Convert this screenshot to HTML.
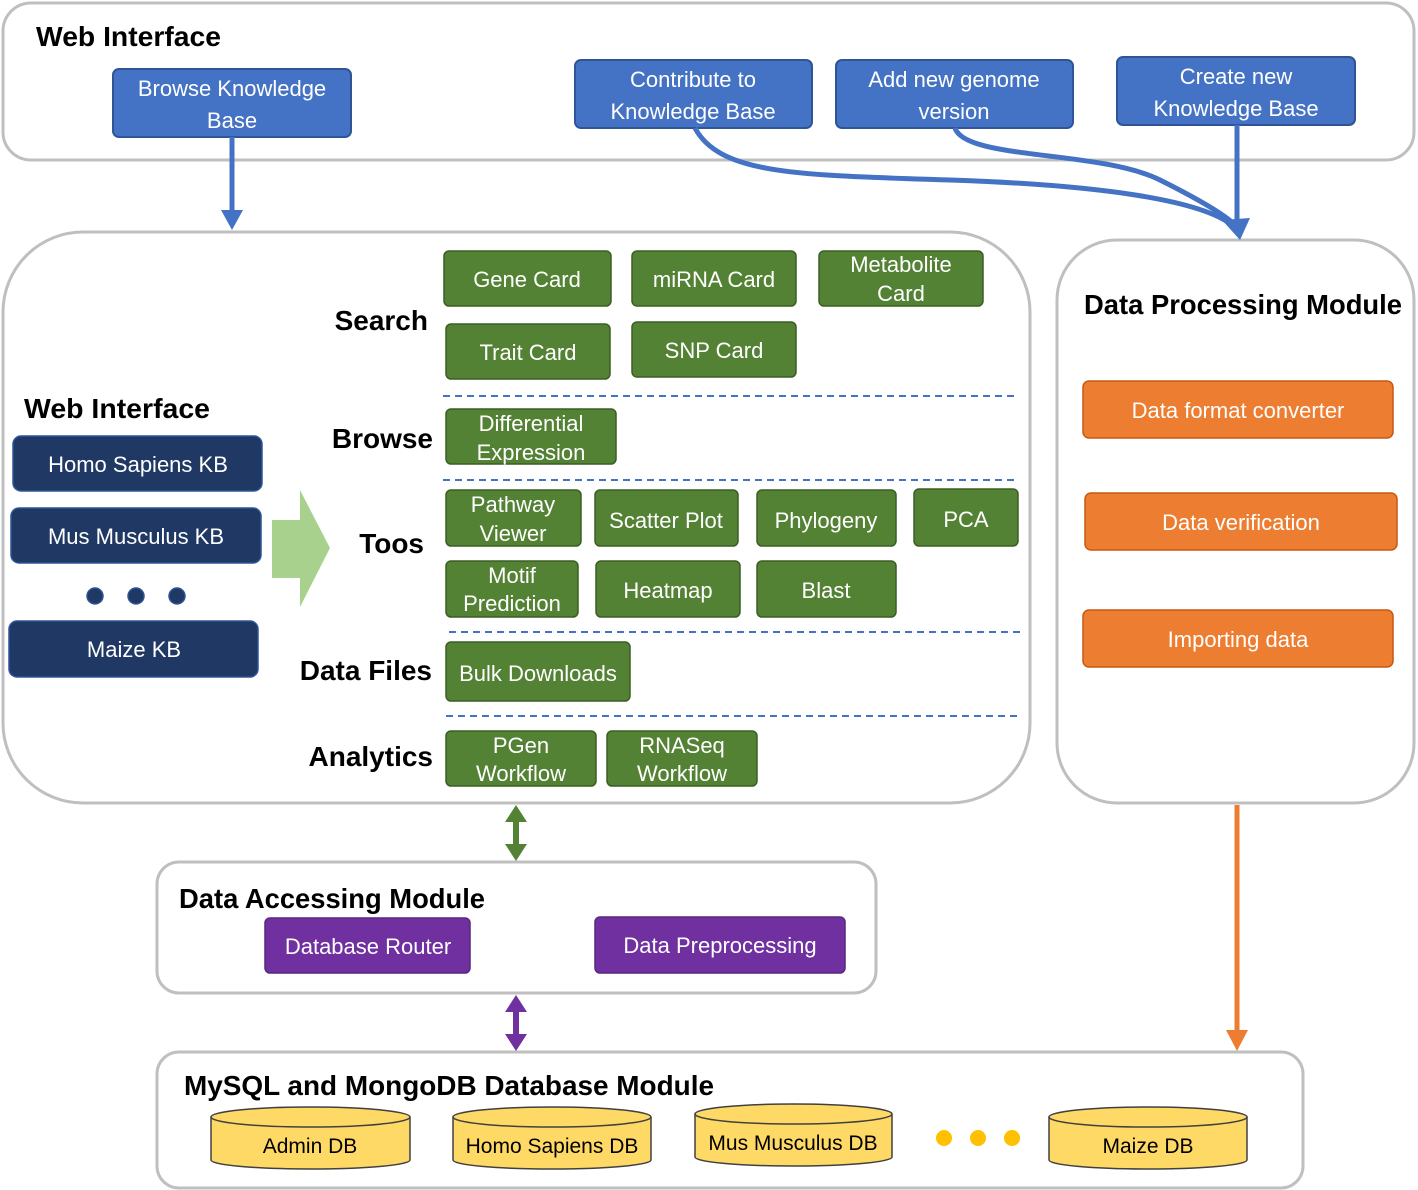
<!DOCTYPE html>
<html><head><meta charset="utf-8"><style>
html,body{margin:0;padding:0;background:#fff;}
svg{display:block;font-family:"Liberation Sans",sans-serif;}
.h{font-weight:bold;font-size:28px;fill:#000;}
.w{fill:#fff;font-size:22px;text-anchor:middle;}
.k{fill:#000;font-size:21px;text-anchor:middle;}
</style></head><body>
<svg width="1418" height="1190" viewBox="0 0 1418 1190" xmlns="http://www.w3.org/2000/svg">
<rect x="3" y="3" width="1411" height="157" rx="28" fill="#fff" stroke="#bfbfbf" stroke-width="3"/>
<rect x="3" y="232" width="1027" height="571" rx="80" fill="#fff" stroke="#bfbfbf" stroke-width="3"/>
<rect x="1057" y="240" width="357" height="563" rx="60" fill="#fff" stroke="#bfbfbf" stroke-width="3"/>
<rect x="157" y="862" width="719" height="131" rx="22" fill="#fff" stroke="#bfbfbf" stroke-width="3"/>
<rect x="157" y="1052" width="1146" height="136" rx="22" fill="#fff" stroke="#bfbfbf" stroke-width="3"/>

<text class="h" x="36" y="46" textLength="185" lengthAdjust="spacingAndGlyphs">Web Interface</text>
<g fill="#4472C4" stroke="#2F5597" stroke-width="2">
<rect x="113" y="69" width="238" height="68" rx="6"/>
<rect x="575" y="60" width="237" height="68" rx="6"/>
<rect x="836" y="60" width="237" height="68" rx="6"/>
<rect x="1117" y="57" width="238" height="68" rx="6"/>
</g>
<text class="w" x="232" y="96">Browse Knowledge</text><text class="w" x="232" y="128">Base</text>
<text class="w" x="693" y="87">Contribute to</text><text class="w" x="693" y="119">Knowledge Base</text>
<text class="w" x="954" y="87">Add new genome</text><text class="w" x="954" y="119">version</text>
<text class="w" x="1236" y="84">Create new</text><text class="w" x="1236" y="116">Knowledge Base</text>

<g stroke="#4472C4" stroke-width="5" fill="none">
<line x1="232" y1="137" x2="232" y2="215"/>
<path d="M695,128 C720,175 800,175 950,180 C1100,185 1200,200 1232,225"/>
<path d="M955,128 C965,160 1100,150 1160,180 C1200,200 1225,215 1235,225"/>
<line x1="1237" y1="125" x2="1237" y2="222"/>
</g>
<path d="M221,210 L243,210 L232,230Z" fill="#4472C4"/>
<path d="M1222,220 L1250,218 L1240,240Z" fill="#4472C4"/>

<g class="h" text-anchor="end">
<text x="428" y="330">Search</text>
<text x="433" y="448">Browse</text>
<text x="424" y="553">Toos</text>
<text x="432" y="680">Data Files</text>
<text x="433" y="766">Analytics</text>
</g>
<g fill="#548235" stroke="#3b5e23" stroke-width="1.5">
<rect x="444" y="251" width="167" height="55" rx="5"/>
<rect x="632" y="251" width="164" height="55" rx="5"/>
<rect x="819" y="251" width="164" height="55" rx="5"/>
<rect x="446" y="324" width="164" height="55" rx="5"/>
<rect x="632" y="322" width="164" height="55" rx="5"/>
<rect x="446" y="409" width="170" height="55" rx="5"/>
<rect x="446" y="490" width="135" height="56" rx="5"/>
<rect x="595" y="490" width="143" height="56" rx="5"/>
<rect x="757" y="490" width="139" height="56" rx="5"/>
<rect x="914" y="489" width="104" height="57" rx="5"/>
<rect x="446" y="561" width="132" height="56" rx="5"/>
<rect x="596" y="561" width="144" height="56" rx="5"/>
<rect x="757" y="561" width="139" height="56" rx="5"/>
<rect x="446" y="642" width="184" height="59" rx="5"/>
<rect x="446" y="731" width="150" height="55" rx="5"/>
<rect x="607" y="731" width="150" height="55" rx="5"/>
</g>
<text class="w" x="527" y="287">Gene Card</text>
<text class="w" x="714" y="287">miRNA Card</text>
<text class="w" x="901" y="272">Metabolite</text><text class="w" x="901" y="301">Card</text>
<text class="w" x="528" y="360">Trait Card</text>
<text class="w" x="714" y="358">SNP Card</text>
<text class="w" x="531" y="431">Differential</text><text class="w" x="531" y="460">Expression</text>
<text class="w" x="513" y="512">Pathway</text><text class="w" x="513" y="541">Viewer</text>
<text class="w" x="666" y="528">Scatter Plot</text>
<text class="w" x="826" y="528">Phylogeny</text>
<text class="w" x="966" y="527">PCA</text>
<text class="w" x="512" y="583">Motif</text><text class="w" x="512" y="611">Prediction</text>
<text class="w" x="668" y="598">Heatmap</text>
<text class="w" x="826" y="598">Blast</text>
<text class="w" x="538" y="681">Bulk Downloads</text>
<text class="w" x="521" y="753">PGen</text><text class="w" x="521" y="781">Workflow</text>
<text class="w" x="682" y="753">RNASeq</text><text class="w" x="682" y="781">Workflow</text>
<g stroke="#4472C4" stroke-width="2" stroke-dasharray="7,5">
<line x1="443" y1="396" x2="1015" y2="396"/>
<line x1="443" y1="480" x2="1018" y2="480"/>
<line x1="449" y1="632" x2="1020" y2="632"/>
<line x1="446" y1="716" x2="1018" y2="716"/>
</g>

<text class="h" x="24" y="418" textLength="186" lengthAdjust="spacingAndGlyphs">Web Interface</text>
<g fill="#1F3864" stroke="#2F5597" stroke-width="1.5">
<rect x="13" y="436" width="249" height="55" rx="8"/>
<rect x="11" y="508" width="250" height="55" rx="8"/>
<rect x="9" y="621" width="249" height="56" rx="8"/>
<circle cx="95" cy="596" r="8"/><circle cx="136" cy="596" r="8"/><circle cx="177" cy="596" r="8"/>
</g>
<text class="w" x="138" y="472">Homo Sapiens KB</text>
<text class="w" x="136" y="544">Mus Musculus KB</text>
<text class="w" x="134" y="657">Maize KB</text>
<path d="M272,520 L300,520 L300,490 L330,548 L300,607 L300,578 L272,578Z" fill="#a9d18e"/>

<text class="h" x="1084" y="314" textLength="318" lengthAdjust="spacingAndGlyphs">Data Processing Module</text>
<g fill="#ED7D31" stroke="#c55a11" stroke-width="1.5">
<rect x="1083" y="381" width="310" height="57" rx="6"/>
<rect x="1085" y="493" width="312" height="57" rx="6"/>
<rect x="1083" y="610" width="310" height="57" rx="6"/>
</g>
<text class="w" x="1238" y="418">Data format converter</text>
<text class="w" x="1241" y="530">Data verification</text>
<text class="w" x="1238" y="647">Importing data</text>

<line x1="516" y1="818" x2="516" y2="848" stroke="#548235" stroke-width="6"/>
<path d="M505,822 L527,822 L516,805Z M505,844 L527,844 L516,861Z" fill="#548235"/>
<line x1="516" y1="1008" x2="516" y2="1038" stroke="#7030A0" stroke-width="6"/>
<path d="M505,1012 L527,1012 L516,995Z M505,1034 L527,1034 L516,1051Z" fill="#7030A0"/>
<line x1="1237" y1="805" x2="1237" y2="1035" stroke="#ED7D31" stroke-width="5"/>
<path d="M1226,1030 L1248,1030 L1237,1051Z" fill="#ED7D31"/>

<text class="h" x="179" y="908" textLength="306" lengthAdjust="spacingAndGlyphs">Data Accessing Module</text>
<g fill="#7030A0" stroke="#5a2780" stroke-width="1.5">
<rect x="265" y="918" width="205" height="55" rx="5"/>
<rect x="595" y="917" width="250" height="56" rx="5"/>
</g>
<text class="w" x="368" y="954">Database Router</text>
<text class="w" x="720" y="953">Data Preprocessing</text>

<text class="h" x="184" y="1095" textLength="530" lengthAdjust="spacingAndGlyphs">MySQL and MongoDB Database Module</text>
<g fill="#FFD966" stroke="#404040" stroke-width="1.5">
<path d="M211,1117 L211,1160 A99.5,9 0 0 0 410,1160 L410,1117"/><ellipse cx="310.5" cy="1117" rx="99.5" ry="10"/>
<path d="M453,1117 L453,1160 A99,9 0 0 0 651,1160 L651,1117"/><ellipse cx="552" cy="1117" rx="99" ry="10"/>
<path d="M695,1114 L695,1157 A98.5,9 0 0 0 892,1157 L892,1114"/><ellipse cx="793.5" cy="1114" rx="98.5" ry="10"/>
<path d="M1049,1117 L1049,1160 A99,9 0 0 0 1247,1160 L1247,1117"/><ellipse cx="1148" cy="1117" rx="99" ry="10"/>
</g>
<text class="k" x="310" y="1153">Admin DB</text>
<text class="k" x="552" y="1153">Homo Sapiens DB</text>
<text class="k" x="793" y="1150">Mus Musculus DB</text>
<text class="k" x="1148" y="1153">Maize DB</text>
<g fill="#FFC000"><circle cx="944" cy="1138" r="8"/><circle cx="978" cy="1138" r="8"/><circle cx="1012" cy="1138" r="8"/></g>
</svg>
</body></html>
